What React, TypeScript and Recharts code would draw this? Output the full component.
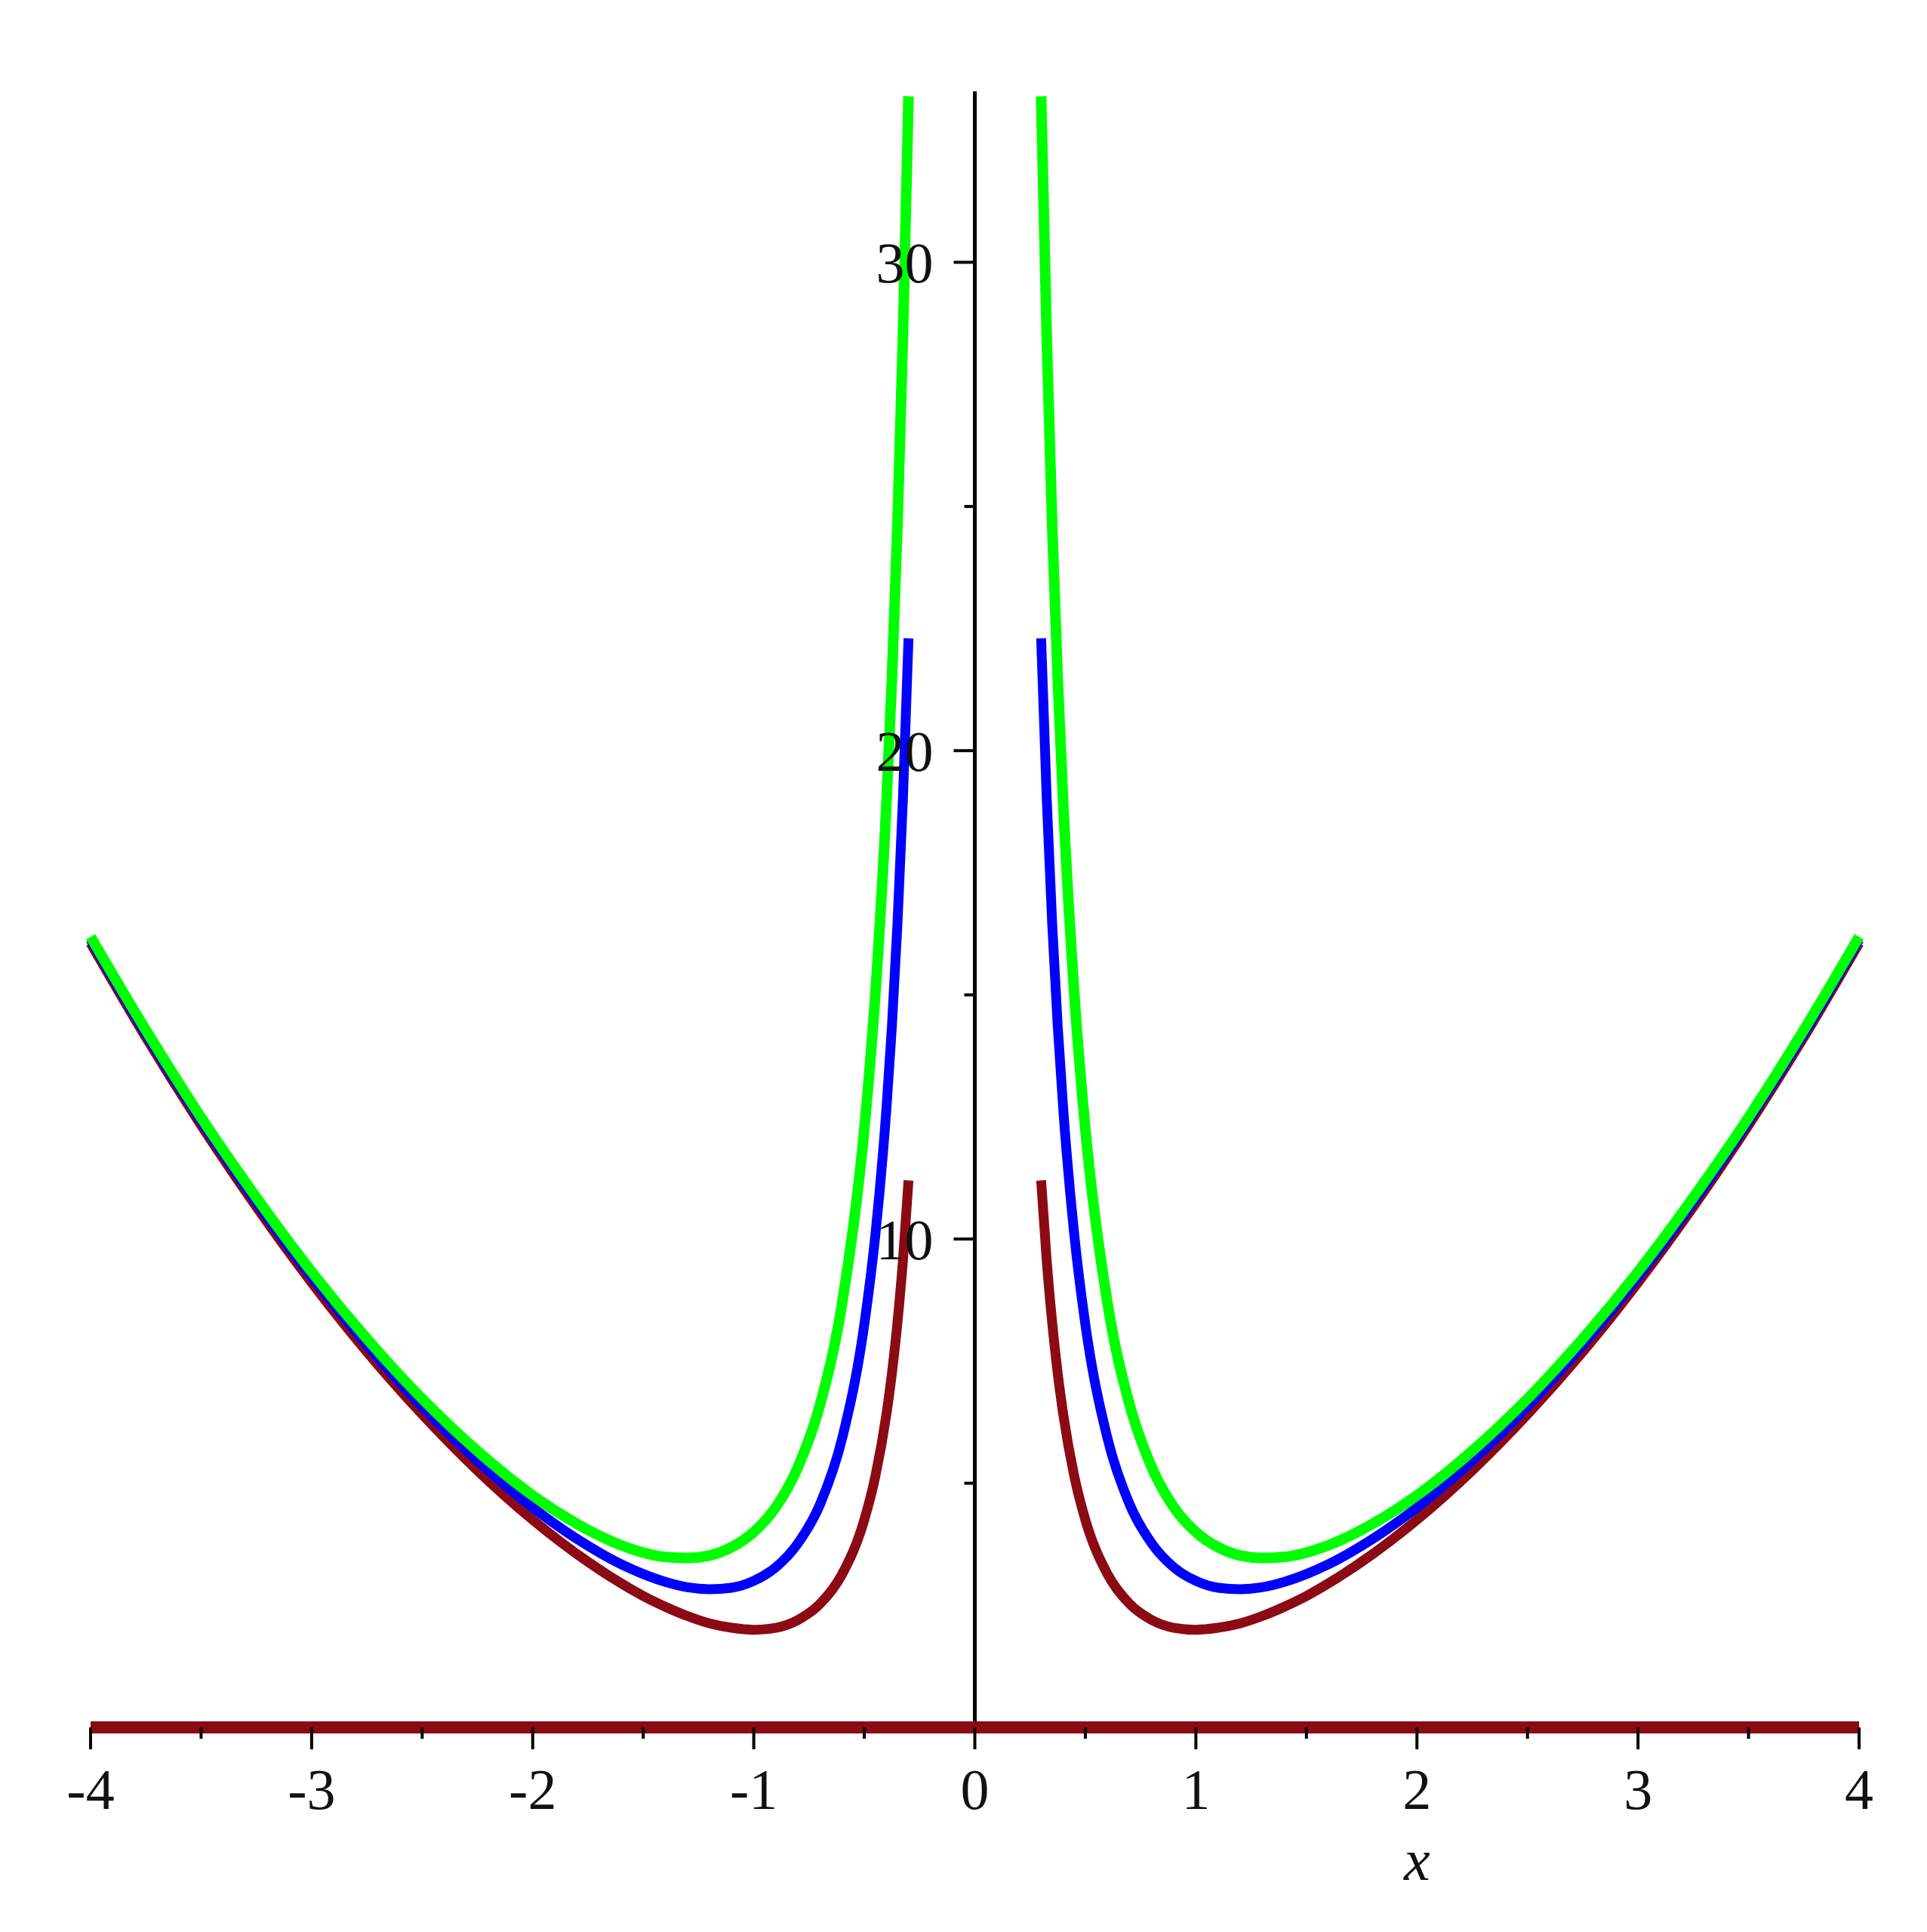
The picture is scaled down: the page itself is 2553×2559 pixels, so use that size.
import { LineChart, Line, XAxis, YAxis, ReferenceLine, ReferenceDot } from 'recharts'

// sample positions, left and right branches
const xLeft = [-4.0, -3.75, -3.5, -3.25, -3.0, -2.75, -2.5, -2.25, -2.0, -1.8, -1.6, -1.5, -1.4, -1.3, -1.2, -1.1, -1.0, -0.9, -0.8, -0.7, -0.6, -0.5, -0.45, -0.4, -0.375, -0.35, -0.325, -0.3]
const xRight = [0.3, 0.325, 0.35, 0.375, 0.4, 0.45, 0.5, 0.6, 0.7, 0.8, 0.9, 1.0, 1.1, 1.2, 1.3, 1.4, 1.5, 1.6, 1.8, 2.0, 2.25, 2.5, 2.75, 3.0, 3.25, 3.5, 3.75, 4.0]

const maroonLeft = [16.06, 14.13, 12.33, 10.66, 9.11, 7.69, 6.41, 5.26, 4.25, 3.55, 2.95, 2.69, 2.47, 2.28, 2.13, 2.04, 2.0, 2.04, 2.2, 2.53, 3.14, 4.25, 5.14, 6.41, 7.25, 8.29, 9.57, 11.2]
const maroonRight = [11.2, 9.57, 8.29, 7.25, 6.41, 5.14, 4.25, 3.14, 2.53, 2.2, 2.04, 2.0, 2.04, 2.13, 2.28, 2.47, 2.69, 2.95, 3.55, 4.25, 5.26, 6.41, 7.69, 9.11, 10.66, 12.33, 14.13, 16.06]

const blueLeft = [16.13, 14.2, 12.41, 10.75, 9.22, 7.83, 6.57, 5.46, 4.5, 3.86, 3.34, 3.14, 2.98, 2.87, 2.83, 2.86, 3.0, 3.28, 3.77, 4.57, 5.92, 8.25, 10.08, 12.66, 14.36, 16.45, 19.04, 22.3]
const blueRight = [22.3, 19.04, 16.45, 14.36, 12.66, 10.08, 8.25, 5.92, 4.57, 3.77, 3.28, 3.0, 2.86, 2.83, 2.87, 2.98, 3.14, 3.34, 3.86, 4.5, 5.46, 6.57, 7.83, 9.22, 10.75, 12.41, 14.2, 16.13]

const greenLeft = [16.19, 14.28, 12.49, 10.85, 9.33, 7.96, 6.73, 5.66, 4.75, 4.17, 3.73, 3.58, 3.49, 3.47, 3.52, 3.69, 4.0, 4.51, 5.33, 6.61, 8.69, 12.25, 15.02, 18.91, 21.47, 24.61, 28.51, 33.4]
const greenRight = [33.4, 28.51, 24.61, 21.47, 18.91, 15.02, 12.25, 8.69, 6.61, 5.33, 4.51, 4.0, 3.69, 3.52, 3.47, 3.49, 3.58, 3.73, 4.17, 4.75, 5.66, 6.73, 7.96, 9.33, 10.85, 12.49, 14.28, 16.19]

const zeroLine = [
  { x: -4, y: 0 },
  { x: 4, y: 0 },
]

const xTicks = [-4, -3.5, -3, -2.5, -2, -1.5, -1, -0.5, 0, 0.5, 1, 1.5, 2, 2.5, 3, 3.5, 4]
const yTicks = [5, 10, 15, 20, 25, 30]

const MAROON = '#8c0a14'
const BLUE = '#0000ff'
const GREEN = '#00ff00'
const FONT = '"Liberation Serif", "DejaVu Serif", serif'

const data = [
  ...xLeft.map((x, i) => ({ x, maroon: maroonLeft[i], blue: blueLeft[i], green: greenLeft[i] })),
  { x: 0, maroon: null, blue: null, green: null },
  ...xRight.map((x, i) => ({ x, maroon: maroonRight[i], blue: blueRight[i], green: greenRight[i] })),
]

function XTick(props: any) {
  const { x, y, payload } = props
  const v = payload.value
  const major = Number.isInteger(v)
  return (
    <g>
      <line x1={x} y1={y} x2={x} y2={y + (major ? 29 : 15)} stroke="#000" strokeWidth={4} />
      {major && (
        <text x={x} y={y + 108} textAnchor="middle" fontSize={76} fontFamily={FONT} fill="#111">
          {v < 0 ? `-${-v}` : v}
        </text>
      )}
    </g>
  )
}

function YTick(props: any) {
  const { cx, cy, value } = props
  const major = value % 10 === 0
  return (
    <g>
      <line x1={cx - (major ? 28 : 14)} y1={cy} x2={cx} y2={cy} stroke="#000" strokeWidth={4} />
      {major && (
        <text x={cx - 55} y={cy + 27} textAnchor="end" fontSize={76} fontFamily={FONT} fill="#111">
          {value}
        </text>
      )}
    </g>
  )
}

function XLabel(props: any) {
  const { cx, cy } = props
  return (
    <text x={cx} y={cy + 202} textAnchor="middle" fontSize={78} fontStyle="italic" fontFamily={FONT} fill="#111">
      x
    </text>
  )
}

export default function App() {
  return (
    <div style={{ width: 2540, height: 2540, background: '#fff' }}>
      <LineChart
        width={2540}
        height={2540}
        data={data}
        margin={{ top: 113, right: 85, left: 112, bottom: 140 }}
      >
        <XAxis
          dataKey="x"
          type="number"
          domain={[-4, 4]}
          ticks={xTicks}
          tick={<XTick />}
          tickLine={false}
          tickSize={0}
          tickMargin={0}
          height={120}
          axisLine={false}
          interval={0}
        />
        <YAxis type="number" domain={[0, 33.5]} hide />
        <ReferenceLine x={0} stroke="#000" strokeWidth={5} />
        {yTicks.map((v) => (
          <ReferenceDot key={v} x={0} y={v} r={0} shape={(p: any) => <YTick {...p} value={v} />} />
        ))}
        <ReferenceDot x={2} y={0} r={0} shape={(p: any) => <XLabel {...p} />} />
        <Line
          data={zeroLine}
          dataKey="y"
          type="linear"
          stroke={MAROON}
          strokeWidth={16}
          dot={false}
          isAnimationActive={false}
        />
        <Line
          dataKey="maroon"
          type="monotone"
          stroke={MAROON}
          strokeWidth={13}
          dot={false}
          connectNulls={false}
          isAnimationActive={false}
        />
        <Line
          dataKey="blue"
          type="monotone"
          stroke={BLUE}
          strokeWidth={13}
          dot={false}
          connectNulls={false}
          isAnimationActive={false}
        />
        <Line
          dataKey="green"
          type="monotone"
          stroke={GREEN}
          strokeWidth={14}
          dot={false}
          connectNulls={false}
          isAnimationActive={false}
        />
      </LineChart>
    </div>
  )
}
